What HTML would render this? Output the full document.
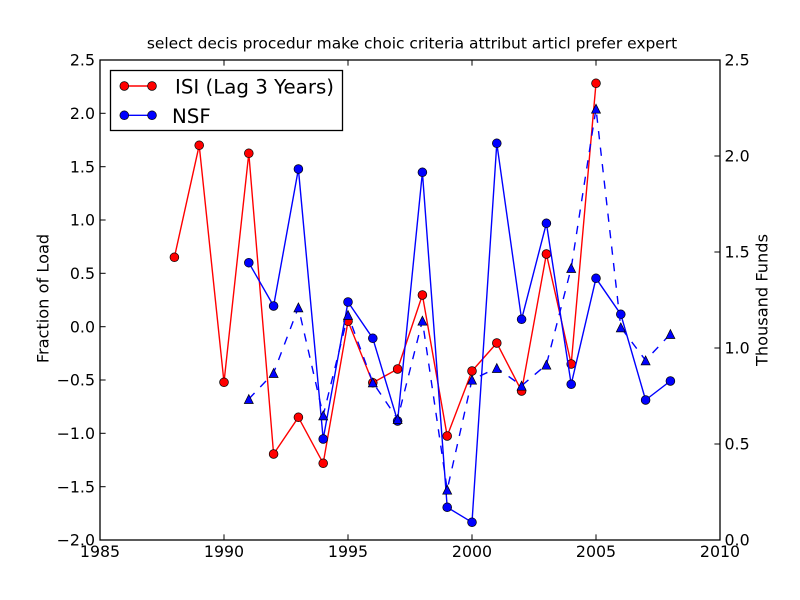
<!DOCTYPE html>
<html>
<head>
<meta charset="utf-8">
<style>
  html, body { margin:0; padding:0; background:#ffffff; }
  svg { display:block; }
  text { font-family: "DejaVu Sans", "Liberation Sans", sans-serif; fill:#000; }
</style>
</head>
<body>
<svg width="800" height="600" viewBox="0 0 800 600" xmlns="http://www.w3.org/2000/svg">
  <rect x="0" y="0" width="800" height="600" fill="#ffffff"/>
  <rect x="100" y="60" width="620" height="480" fill="#ffffff"/>

  <!-- Title -->
  <text x="412" y="48.5" font-size="15.45" text-anchor="middle">select decis procedur make choic criteria attribut articl prefer expert</text>

  <!-- ISI red line -->
  <polyline fill="none" stroke="#ff0000" stroke-width="1.4" stroke-linejoin="round"
    points="174.4,257.3 199.2,145.3 224,382.3 248.8,153.3 273.6,454 298.4,417.3 323.2,463.3 348,321.3 372.8,382.7 397.6,369 422.4,295 447.2,436 472,371 496.8,343 521.6,391 546.4,254 571.2,364 596,83.3"/>
  <g fill="#ff0000" stroke="#000" stroke-width="0.7">
    <circle cx="174.4" cy="257.3" r="4.4"/>
    <circle cx="199.2" cy="145.3" r="4.4"/>
    <circle cx="224" cy="382.3" r="4.4"/>
    <circle cx="248.8" cy="153.3" r="4.4"/>
    <circle cx="273.6" cy="454" r="4.4"/>
    <circle cx="298.4" cy="417.3" r="4.4"/>
    <circle cx="323.2" cy="463.3" r="4.4"/>
    <circle cx="348" cy="321.3" r="4.4"/>
    <circle cx="372.8" cy="382.7" r="4.4"/>
    <circle cx="397.6" cy="369" r="4.4"/>
    <circle cx="422.4" cy="295" r="4.4"/>
    <circle cx="447.2" cy="436" r="4.4"/>
    <circle cx="472" cy="371" r="4.4"/>
    <circle cx="496.8" cy="343" r="4.4"/>
    <circle cx="521.6" cy="391" r="4.4"/>
    <circle cx="546.4" cy="254" r="4.4"/>
    <circle cx="571.2" cy="364" r="4.4"/>
    <circle cx="596" cy="83.3" r="4.4"/>
  </g>

  <!-- NSF blue line -->
  <polyline fill="none" stroke="#0000ff" stroke-width="1.4" stroke-linejoin="round"
    points="248.8,262.7 273.6,306 298.4,169 323.2,439 348,302 372.8,338.3 397.6,421 422.4,172.3 447.2,507.3 472,522.3 496.8,143.3 521.6,319.3 546.4,223.3 571.2,384.3 596,278.3 620.8,314.3 645.6,400 670.4,381"/>
  <g fill="#0000ff" stroke="#000" stroke-width="0.7">
    <circle cx="248.8" cy="262.7" r="4.4"/>
    <circle cx="273.6" cy="306" r="4.4"/>
    <circle cx="298.4" cy="169" r="4.4"/>
    <circle cx="323.2" cy="439" r="4.4"/>
    <circle cx="348" cy="302" r="4.4"/>
    <circle cx="372.8" cy="338.3" r="4.4"/>
    <circle cx="397.6" cy="421" r="4.4"/>
    <circle cx="422.4" cy="172.3" r="4.4"/>
    <circle cx="447.2" cy="507.3" r="4.4"/>
    <circle cx="472" cy="522.3" r="4.4"/>
    <circle cx="496.8" cy="143.3" r="4.4"/>
    <circle cx="521.6" cy="319.3" r="4.4"/>
    <circle cx="546.4" cy="223.3" r="4.4"/>
    <circle cx="571.2" cy="384.3" r="4.4"/>
    <circle cx="596" cy="278.3" r="4.4"/>
    <circle cx="620.8" cy="314.3" r="4.4"/>
    <circle cx="645.6" cy="400" r="4.4"/>
    <circle cx="670.4" cy="381" r="4.4"/>
  </g>

  <!-- Dashed blue (right axis) -->
  <polyline fill="none" stroke="#0000ff" stroke-width="1.4" stroke-dasharray="8.3,8.3" stroke-linejoin="round"
    points="248.8,399 273.6,373 298.4,307.4 323.2,415.4 348,315 372.8,382.4 397.6,419 422.4,320.7 447.2,489.7 472,379.7 496.8,368 521.6,385.7 546.4,364.7 571.2,268 596,108.7 620.8,327.4 645.6,360.4 670.4,334"/>
  <g fill="#0000ff" stroke="#000" stroke-width="0.7" stroke-linejoin="miter">
    <polygon points="248.8,394.5 244.3,403.5 253.3,403.5"/>
    <polygon points="273.6,368.5 269.1,377.5 278.1,377.5"/>
    <polygon points="298.4,302.9 293.9,311.9 302.9,311.9"/>
    <polygon points="323.2,410.9 318.7,419.9 327.7,419.9"/>
    <polygon points="348,310.5 343.5,319.5 352.5,319.5"/>
    <polygon points="372.8,377.9 368.3,386.9 377.3,386.9"/>
    <polygon points="397.6,414.5 393.1,423.5 402.1,423.5"/>
    <polygon points="422.4,316.2 417.9,325.2 426.9,325.2"/>
    <polygon points="447.2,485.2 442.7,494.2 451.7,494.2"/>
    <polygon points="472,375.2 467.5,384.2 476.5,384.2"/>
    <polygon points="496.8,363.5 492.3,372.5 501.3,372.5"/>
    <polygon points="521.6,381.2 517.1,390.2 526.1,390.2"/>
    <polygon points="546.4,360.2 541.9,369.2 550.9,369.2"/>
    <polygon points="571.2,263.5 566.7,272.5 575.7,272.5"/>
    <polygon points="596,104.2 591.5,113.2 600.5,113.2"/>
    <polygon points="620.8,322.9 616.3,331.9 625.3,331.9"/>
    <polygon points="645.6,355.9 641.1,364.9 650.1,364.9"/>
    <polygon points="670.4,329.5 665.9,338.5 674.9,338.5"/>
  </g>

  <!-- Axes frame -->
  <rect x="100" y="60" width="620" height="480" fill="none" stroke="#000" stroke-width="1.3"/>

  <!-- Ticks -->
  <g stroke="#000" stroke-width="1">
    <line x1="224" y1="540" x2="224" y2="534.4"/><line x1="224" y1="60" x2="224" y2="65.6"/>
    <line x1="348" y1="540" x2="348" y2="534.4"/><line x1="348" y1="60" x2="348" y2="65.6"/>
    <line x1="472" y1="540" x2="472" y2="534.4"/><line x1="472" y1="60" x2="472" y2="65.6"/>
    <line x1="596" y1="540" x2="596" y2="534.4"/><line x1="596" y1="60" x2="596" y2="65.6"/>
    <line x1="100" y1="486.7" x2="105.6" y2="486.7"/>
    <line x1="100" y1="433.3" x2="105.6" y2="433.3"/>
    <line x1="100" y1="380" x2="105.6" y2="380"/>
    <line x1="100" y1="326.7" x2="105.6" y2="326.7"/>
    <line x1="100" y1="273.3" x2="105.6" y2="273.3"/>
    <line x1="100" y1="220" x2="105.6" y2="220"/>
    <line x1="100" y1="166.7" x2="105.6" y2="166.7"/>
    <line x1="100" y1="113.3" x2="105.6" y2="113.3"/>
    <line x1="720" y1="444" x2="714.4" y2="444"/>
    <line x1="720" y1="348" x2="714.4" y2="348"/>
    <line x1="720" y1="252" x2="714.4" y2="252"/>
    <line x1="720" y1="156" x2="714.4" y2="156"/>
  </g>

  <!-- X tick labels -->
  <g font-size="15.8" text-anchor="middle">
    <text x="100" y="557">1985</text>
    <text x="224" y="557">1990</text>
    <text x="348" y="557">1995</text>
    <text x="472" y="557">2000</text>
    <text x="596" y="557">2005</text>
    <text x="720" y="557">2010</text>
  </g>

  <!-- Left tick labels -->
  <g font-size="15.8" text-anchor="end">
    <text x="95" y="545.7">−2.0</text>
    <text x="95" y="492.4">−1.5</text>
    <text x="95" y="439">−1.0</text>
    <text x="95" y="385.7">−0.5</text>
    <text x="95" y="332.4">0.0</text>
    <text x="95" y="279">0.5</text>
    <text x="95" y="225.7">1.0</text>
    <text x="95" y="172.4">1.5</text>
    <text x="95" y="119">2.0</text>
    <text x="95" y="65.7">2.5</text>
  </g>

  <!-- Right tick labels -->
  <g font-size="15.8" text-anchor="start">
    <text x="724.5" y="545.7">0.0</text>
    <text x="724.5" y="449.7">0.5</text>
    <text x="724.5" y="353.7">1.0</text>
    <text x="724.5" y="257.7">1.5</text>
    <text x="724.5" y="161.7">2.0</text>
    <text x="724.5" y="65.7">2.5</text>
  </g>

  <!-- Axis labels -->
  <text transform="translate(48.5,298.5) rotate(-90)" font-size="16.2" text-anchor="middle">Fraction of Load</text>
  <text transform="translate(767.5,300) rotate(-90)" font-size="16.2" text-anchor="middle">Thousand Funds</text>

  <!-- Legend -->
  <rect x="110.5" y="70.5" width="232" height="60" fill="#ffffff" stroke="#000" stroke-width="1.3"/>
  <line x1="124.3" y1="86" x2="152" y2="86" stroke="#ff0000" stroke-width="1.4"/>
  <circle cx="124.3" cy="86" r="4.4" fill="#ff0000" stroke="#000" stroke-width="0.7"/>
  <circle cx="152" cy="86" r="4.4" fill="#ff0000" stroke="#000" stroke-width="0.7"/>
  <text x="175" y="93.5" font-size="19.8">ISI (Lag 3 Years)</text>
  <line x1="124.3" y1="115.3" x2="152" y2="115.3" stroke="#0000ff" stroke-width="1.4"/>
  <circle cx="124.3" cy="115.3" r="4.4" fill="#0000ff" stroke="#000" stroke-width="0.7"/>
  <circle cx="152" cy="115.3" r="4.4" fill="#0000ff" stroke="#000" stroke-width="0.7"/>
  <text x="172" y="122.8" font-size="19.8">NSF</text>
</svg>
</body>
</html>
